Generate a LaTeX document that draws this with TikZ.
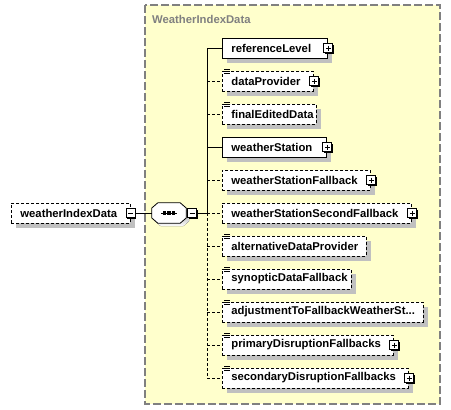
\documentclass[tikz,border=0pt]{standalone}
\usepackage{fontspec}
\setmainfont{Liberation Sans}
\usetikzlibrary{shadows,calc}
\definecolor{cplxfill}{RGB}{255,255,204}
\definecolor{cplxline}{RGB}{128,128,128}
\definecolor{shade}{RGB}{192,192,192}
\begin{document}
\begin{tikzpicture}[x=1pt,y=-1pt,
  lbl/.style={font=\fontsize{11.3}{13}\selectfont\bfseries},
  elembox/.style={lbl, draw=black, line width=0.8pt, fill=white, anchor=west,
    minimum height=20pt, inner ysep=0pt, inner xsep=9pt, align=left,
    general shadow={shadow xshift=5pt, shadow yshift=-5pt, fill=shade, opacity=1}},
  optbox/.style={elembox, dash pattern=on 3pt off 2pt},
  conn/.style={line width=0.8pt},
  optconn/.style={conn, dash pattern=on 3pt off 2pt},
  pmbox/.style={draw=black, fill=white, line width=0.8pt, minimum size=9pt, inner sep=0pt,
    general shadow={shadow xshift=1pt, shadow yshift=-1pt, fill=black, opacity=1}},
  plusbox/.style={pmbox, path picture={\draw[line width=0.8pt]
    ([xshift=2pt]path picture bounding box.west) -- ([xshift=-2pt]path picture bounding box.east)
    ([yshift=-2pt]path picture bounding box.north) -- ([yshift=2pt]path picture bounding box.south);}},
  minusbox/.style={pmbox, path picture={\draw[line width=0.8pt]
    ([xshift=2pt]path picture bounding box.west) -- ([xshift=-2pt]path picture bounding box.east);}},
]
\useasboundingbox (0,0) rectangle (451,410);
\fill[white] (0,0) rectangle (451,410);

% complex type area
\draw[cplxline, fill=cplxfill, line width=1.2pt, dash pattern=on 8pt off 3pt] (145,5) rectangle (440,404);
\node[lbl, text=cplxline, anchor=west, inner sep=0pt] (title) at (152,19) {WeatherIndexData};

% root element
\node[optbox, text width=101pt] (root) at (11,213) {weatherIndexData};
\node[minusbox] (rootmin) at (root.east) {};

% sequence compositor
\node[minimum width=34pt, minimum height=20pt, inner sep=0pt] (seq) at (169,213) {};
\fill[shade] ($(seq.north west)+(9,3)$) -- ($(seq.north east)+(-3,3)$) -- ($(seq.east)+(3,-2)$) -- ($(seq.east)+(3,8)$)
  -- ($(seq.south east)+(-3,3)$) -- ($(seq.south west)+(9,3)$) -- ($(seq.west)+(3,8)$) -- ($(seq.west)+(3,-2)$) -- cycle;
\draw[line width=0.8pt, fill=white] ($(seq.north west)+(6,0)$) -- ($(seq.north east)+(-6,0)$) -- ($(seq.east)+(0,-5)$) -- ($(seq.east)+(0,5)$)
  -- ($(seq.south east)+(-6,0)$) -- ($(seq.south west)+(6,0)$) -- ($(seq.west)+(0,5)$) -- ($(seq.west)+(0,-5)$) -- cycle;
\draw[line width=0.8pt] ($(seq.center)+(-8,0)$) -- ($(seq.center)+(8,0)$);
\foreach \dx in {-4.5,0,4.5} \fill ($(seq.center)+(\dx-1.6,-1.6)$) rectangle ($(seq.center)+(\dx+1.6,1.6)$);
\node[minusbox, anchor=west] (seqmin) at ($(seq.east)+(1,0)$) {};

\draw[conn] (rootmin.east) -- (seq.west);
\coordinate (trunk) at (207,213);
\draw[conn] (seqmin.east) -- (trunk);

% child elements
\node[elembox, text width=87pt] (e1) at (222,48) {referenceLevel};
\node[optbox, text width=73pt] (e2) at (222,81) {dataProvider};
\node[optbox, text width=76pt] (e3) at (222,114) {finalEditedData};
\node[elembox, text width=86pt] (e4) at (222,147) {weatherStation};
\node[optbox, text width=130pt] (e5) at (222,180) {weatherStationFallback};
\node[optbox, text width=171pt] (e6) at (222,213) {weatherStationSecondFallback};
\node[optbox, text width=126pt] (e7) at (222,246) {alternativeDataProvider};
\node[optbox, text width=111pt] (e8) at (222,279) {synopticDataFallback};
\node[optbox, text width=183pt] (e9) at (222,312) {adjustmentToFallbackWeatherSt...};
\node[optbox, text width=153pt] (e10) at (222,345) {primaryDisruptionFallbacks};
\node[optbox, text width=168pt] (e11) at (222,378) {secondaryDisruptionFallbacks};

% plus boxes
\foreach \n in {e1,e2,e4,e5,e6,e10,e11}
  \node[plusbox] (p\n) at ([xshift=0.5pt]\n.east) {};

% simple-content icons
\foreach \n in {e2,e3,e7,e8,e9,e10,e11}
  \foreach \d in {1.5,-0.5,-2.5}
    \draw[line width=0.8pt] ([xshift=2pt,yshift=\d pt]\n.north west) -- ++(6,0);

% connectors
\draw[conn] (trunk) -- (trunk |- e1.west);
\draw[optconn] (trunk) -- (trunk |- e11.west);
\foreach \n in {e1,e4} \draw[conn] (trunk |- \n.west) -- (\n.west);
\foreach \n in {e2,e3,e5,e6,e7,e8,e9,e10,e11} \draw[optconn] (trunk |- \n.west) -- (\n.west);
\end{tikzpicture}
\end{document}
